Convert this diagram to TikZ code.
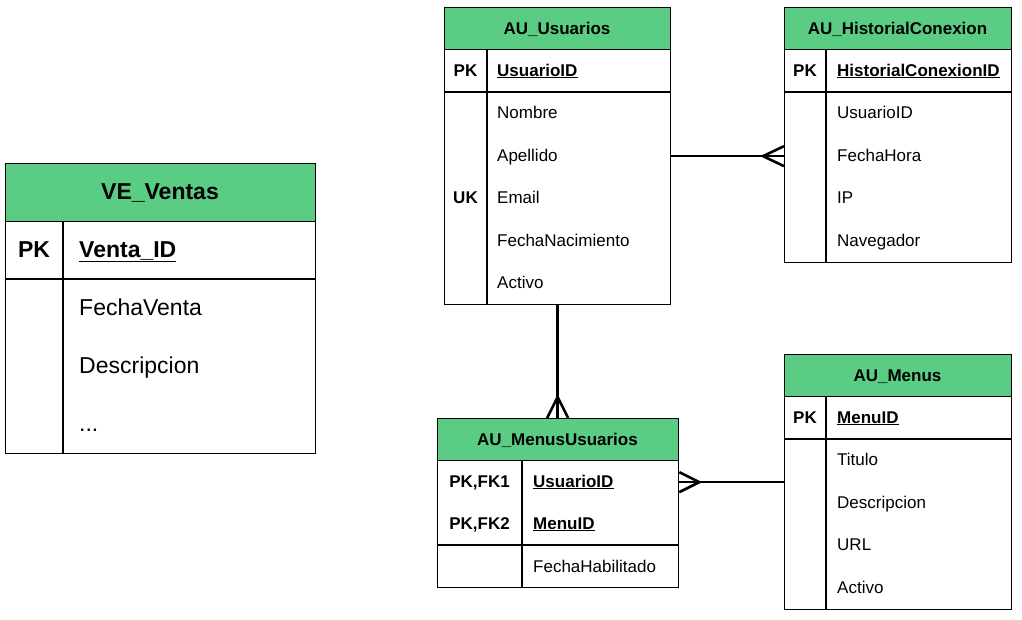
\documentclass[tikz,border=0pt]{standalone}
\usepackage{fontspec}
\setmainfont{Liberation Sans}
\usetikzlibrary{calc}
\definecolor{hdr}{RGB}{90,204,132}
\begin{document}
\begin{tikzpicture}[x=1pt,y=-1pt,
  tbl/.style={draw=black,fill=white,line width=1.3pt,anchor=north west,inner sep=0pt},
  hd/.style={draw=black,fill=hdr,line width=1.3pt,anchor=north west,inner sep=0pt},
  sep/.style={draw=black,line width=1.3pt},
  conn/.style={draw=black,line width=2.6pt},
  txt/.style={anchor=base west,inner sep=0pt,font=\fontsize{17}{20}\selectfont},
  key/.style={anchor=base,inner sep=0pt,font=\fontsize{17}{20}\selectfont\bfseries},
  ttl/.style={anchor=base,inner sep=0pt,font=\fontsize{17}{20}\selectfont\bfseries},
  btxt/.style={anchor=base west,inner sep=0pt,font=\fontsize{23}{26}\selectfont},
  bkey/.style={anchor=base,inner sep=0pt,font=\fontsize{23}{26}\selectfont\bfseries}]
\fill[white] (0,0) rectangle (1022,619);
\useasboundingbox (0,0) rectangle (1022,619);

% ---------- VE_Ventas ----------
\node[tbl,minimum width=310pt,minimum height=290pt] (ve) at (5,163) {};
\node[hd,minimum width=310pt,minimum height=58pt] (veH) at (5,163) {};
\draw[sep] (5,279) -- (315,279);
\draw[sep] (63,221) -- (63,453);
\node[bkey] (veT) at (160,199) {VE\_Ventas};
\node[bkey] (veK) at (34,257) {PK};
\node[btxt,font=\fontsize{23}{26}\selectfont\bfseries] (ve1) at (79,257) {\underline{Venta\_ID}};
\node[btxt] (ve2) at (79,315) {FechaVenta};
\node[btxt] (ve3) at (79,373) {Descripcion};
\node[btxt] (ve4) at (79,431) {...};

% ---------- AU_Usuarios ----------
\node[tbl,minimum width=226pt,minimum height=297pt] (usu) at (444,7) {};
\node[hd,minimum width=226pt,minimum height=42pt] (usuH) at (444,7) {};
\draw[sep] (444,92) -- (670,92);
\draw[sep] (487,49) -- (487,304);
\node[ttl] (usuT) at (557,34) {AU\_Usuarios};
\node[key] (usuK) at (465.5,76) {PK};
\node[txt,font=\fontsize{17}{20}\selectfont\bfseries] (usu0) at (497,76) {\underline{UsuarioID}};
\node[txt] (usu1) at (497,118) {Nombre};
\node[txt] (usu2) at (497,161) {Apellido};
\node[key] (usuU) at (465.5,203) {UK};
\node[txt] (usu3) at (497,203) {Email};
\node[txt] (usu4) at (497,246) {FechaNacimiento};
\node[txt] (usu5) at (497,288) {Activo};

% ---------- AU_HistorialConexion ----------
\node[tbl,minimum width=227pt,minimum height=255pt] (hist) at (784,7) {};
\node[hd,minimum width=227pt,minimum height=42pt] (histH) at (784,7) {};
\draw[sep] (784,92) -- (1011,92);
\draw[sep] (826,49) -- (826,262);
\node[ttl] (histT) at (897.5,34) {AU\_HistorialConexion};
\node[key] (histK) at (805,76) {PK};
\node[txt,font=\fontsize{17}{20}\selectfont\bfseries] (hist0) at (837,76) {\underline{HistorialConexionID}};
\node[txt] (hist1) at (837,118) {UsuarioID};
\node[txt] (hist2) at (837,161) {FechaHora};
\node[txt] (hist3) at (837,203) {IP};
\node[txt] (hist4) at (837,246) {Navegador};

% ---------- AU_Menus ----------
\node[tbl,minimum width=227pt,minimum height=255pt] (men) at (784,354) {};
\node[hd,minimum width=227pt,minimum height=42pt] (menH) at (784,354) {};
\draw[sep] (784,439) -- (1011,439);
\draw[sep] (826,396) -- (826,609);
\node[ttl] (menT) at (897.5,381) {AU\_Menus};
\node[key] (menK) at (805,423) {PK};
\node[txt,font=\fontsize{17}{20}\selectfont\bfseries] (men0) at (837,423) {\underline{MenuID}};
\node[txt] (men1) at (837,465) {Titulo};
\node[txt] (men2) at (837,508) {Descripcion};
\node[txt] (men3) at (837,550) {URL};
\node[txt] (men4) at (837,593) {Activo};

% ---------- AU_MenusUsuarios ----------
\node[tbl,minimum width=241pt,minimum height=169pt] (mu) at (437,418) {};
\node[hd,minimum width=241pt,minimum height=42pt] (muH) at (437,418) {};
\draw[sep] (437,545) -- (678,545);
\draw[sep] (522,460) -- (522,587);
\node[ttl] (muT) at (557.5,445) {AU\_MenusUsuarios};
\node[key] (muK1) at (479.5,487) {PK,FK1};
\node[key] (muK2) at (479.5,529) {PK,FK2};
\node[txt,font=\fontsize{17}{20}\selectfont\bfseries] (mu1) at (533,487) {\underline{UsuarioID}};
\node[txt,font=\fontsize{17}{20}\selectfont\bfseries] (mu2) at (533,529) {\underline{MenuID}};
\node[txt] (mu3) at (533,572) {FechaHabilitado};

% ---------- connectors ----------
\coordinate (c1) at (usu.east -| hist.west);
\draw[conn] (usu.east) -- (c1);
\draw[conn] ($(c1)+(0,-10)$) -- ($(c1)+(-21,0)$) -- ($(c1)+(0,10)$);

\coordinate (c2) at (usu.south |- mu.north);
\draw[conn] (usu.south) -- (c2);
\draw[conn] ($(c2)+(-10.5,0)$) -- ($(c2)+(0,-21)$) -- ($(c2)+(10.5,0)$);

\coordinate (c3) at (men.west -| mu.east);
\draw[conn] (men.west) -- (c3);
\draw[conn] ($(c3)+(0,-10)$) -- ($(c3)+(20,0)$) -- ($(c3)+(0,10)$);
\end{tikzpicture}
\end{document}
